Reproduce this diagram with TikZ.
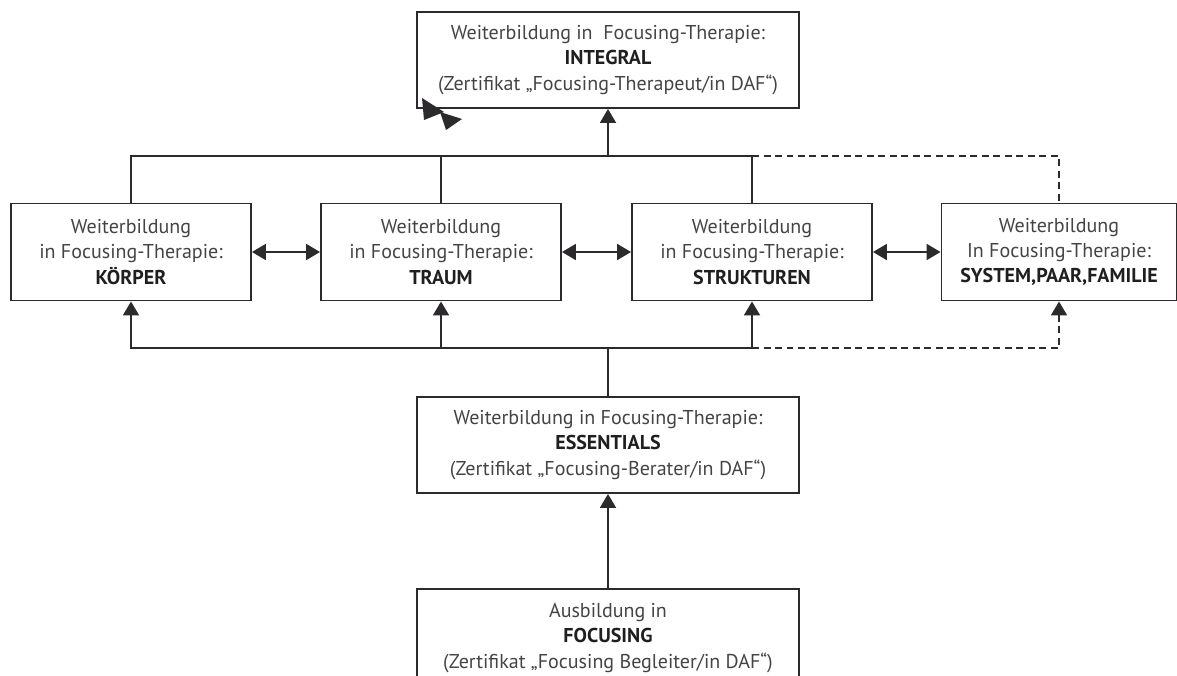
\documentclass[tikz,border=0pt]{standalone}
\usepackage{fontspec}
\setmainfont{PT Sans}
\usepackage{xcolor}
\usetikzlibrary{arrows.meta,calc}
\definecolor{lineclr}{RGB}{45,42,45}
\definecolor{txtclr}{RGB}{68,68,68}
\newcommand{\kw}[1]{\textbf{\color{black!88}#1}}
\tikzset{
    box/.style={rectangle,draw=lineclr,line width=1.1pt,align=center,text=txtclr,font=\fontsize{11.4}{14.3}\selectfont,inner sep=2pt},
    stage/.style={box,minimum width=7.64cm,minimum height=1.92cm},
    module/.style={box,minimum width=4.8cm,minimum height=1.94cm},
    wire/.style={draw=lineclr,line width=1.1pt},
    edge/.style={wire,-{Triangle[length=2.8mm,width=3.2mm]}},
    pair/.style={wire,{Triangle[length=2.8mm,width=3.2mm]}-{Triangle[length=2.8mm,width=3.2mm]}},
    dwire/.style={wire,dash pattern=on 1.4mm off 0.9mm},
    dedge/.style={edge,dash pattern=on 1.4mm off 0.9mm},
}

\begin{document}
\begin{tikzpicture}[x=0.02cm,y=-0.02cm]
\useasboundingbox (0,0) rectangle (1177,676);
% stages
\node[stage] (Int) at (608,60)  {Weiterbildung in~~Focusing-Therapie:\\\kw{INTEGRAL}\\(Zertifikat „Focusing-Therapeut/in DAF“)};
\node[stage] (Ess) at (608,445) {Weiterbildung in Focusing-Therapie:\\\kw{ESSENTIALS}\\(Zertifikat „Focusing-Berater/in DAF“)};
\node[stage,minimum height=1.96cm] (Foc) at (608,638) {Ausbildung in\\\kw{FOCUSING}\\(Zertifikat „Focusing Begleiter/in DAF“)};

% modules
\node[module] (Koe) at (131,252) {Weiterbildung\\in Focusing-Therapie:\\\kw{KÖRPER}};
\node[module] (Tra) at (441,252) {Weiterbildung\\in Focusing-Therapie:\\\kw{TRAUM}};
\node[module] (Str) at (752,252) {Weiterbildung\\in Focusing-Therapie:\\\kw{STRUKTUREN}};
\node[module,minimum width=4.7cm] (Sys) at (1059,252) {Weiterbildung\\In Focusing-Therapie:\\\kw{SYSTEM,PAAR,FAMILIE}};

% buses
\coordinate (tb) at (608,156);
\coordinate (bb) at (608,348);

% wiring
\draw[wire] (Koe.north) |- (Str.north |- tb);
\draw[wire] (Tra.north) -- (Tra.north |- tb);
\draw[wire] (Str.north) -- (Str.north |- tb);
\draw[dwire] (Str.north |- tb) -| (Sys.north);
\draw[edge] (tb) -- (Int.south);

\draw[wire] (Ess.north) -- (bb);
\draw[edge] (bb) -| (Koe.south);
\draw[edge] (bb) -| (Str.south);
\draw[edge] (Tra.south |- bb) -- (Tra.south);
\draw[dedge] (Str.south |- bb) -| (Sys.south);

\draw[pair] (Koe.east) -- (Tra.west);
\draw[pair] (Tra.east) -- (Str.west);
\draw[pair] (Str.east) -- (Sys.west);

\draw[edge] (Foc.north) -- (Ess.south);

% stray mark at the corner
\fill[lineclr] (422,98) -- (424,120) -- (444,112) -- cycle;
\fill[lineclr] (440,112) -- (446,130) -- (462,119) -- cycle;
\end{tikzpicture}
\end{document}
